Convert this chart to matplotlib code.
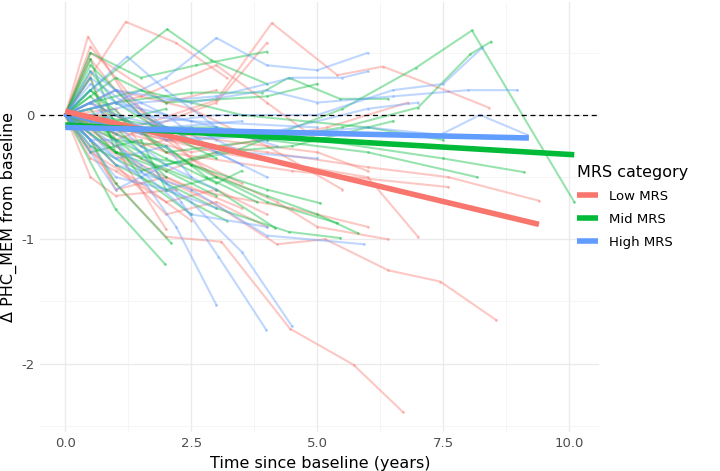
import numpy as np
import matplotlib.pyplot as plt

plt.rcParams['axes.unicode_minus'] = False

# group colours (ggplot defaults)
colors = {'Low MRS': '#F8766D', 'Mid MRS': '#00BA38', 'High MRS': '#619CFF'}

# individual trajectories: (time, change) per participant
low_traj = [
    ([0, 0.45, 1.2, 2.1], [0, 0.63, 0.15, -0.2]),
    ([0, 1.2, 2.2, 3.2], [0, 0.75, 0.58, 0.3]),
    ([0, 1.0, 3.0, 4.1, 5.4, 6.3, 7.6, 8.4], [0, -0.15, 0.12, 0.74, 0.32, 0.39, 0.19, 0.06]),
    ([0, 1.0, 3.0, 4.0], [0, -0.2, 0.1, 0.58]),
    ([0, 1.0, 2.0, 3.1, 4.46, 5.72, 6.7], [0, -0.55, -0.98, -1.02, -1.72, -2.01, -2.39]),
    ([0, 1.1, 2.9, 4.2, 5.16, 6.41, 7.44, 8.55], [0, -0.35, -0.7, -1.04, -1.0, -1.25, -1.34, -1.65]),
    ([0, 2.0, 4.0, 6.0, 7.6, 9.4], [0, -0.2, -0.3, -0.42, -0.5, -0.69]),
    ([0, 1.0, 3.0, 6.0, 7.0], [0, -0.1, -0.3, -0.5, -0.98]),
    ([0, 2.0, 4.5, 7.6], [0, -0.3, -0.45, -0.58]),
    ([0, 0.5, 1.0, 2.0, 3.0], [0, 0.45, 0.2, -0.2, -0.5]),
    ([0, 0.5, 1.5, 2.5], [0, -0.3, -0.55, -0.85]),
    ([0, 0.5, 1.2, 2.0], [0, 0.3, -0.4, -0.92]),
    ([0, 1.0, 2.0, 3.0, 4.0], [0, -0.4, -0.8, -0.7, -0.9]),
    ([0, 0.5, 1.5, 3.0, 5.0, 6.0], [0, 0.1, -0.1, -0.2, -0.3, -0.45]),
    ([0, 0.5, 1.0, 2.0, 3.5], [0, -0.2, -0.6, -0.5, -0.75]),
    ([0, 1.5, 3.0, 4.0, 5.0], [0, 0.15, 0.4, 0.1, -0.2]),
    ([0, 0.5, 2.0, 3.0], [0, 0.5, 0.1, 0.2]),
    ([0, 1.0, 2.5, 4.0, 5.5], [0, 0.2, 0.05, -0.25, -0.6]),
    ([0, 0.5, 1.0, 2.2], [0, -0.5, -0.65, -0.6]),
    ([0, 1.0, 2.0, 4.2, 5.0, 6.4], [0, 0.0, -0.3, -0.7, -0.9, -1.0]),
    ([0, 2.5, 5.2, 6.8], [0, -0.3, -0.1, 0.1]),
    ([0, 0.5, 1.0, 2.5, 4.5, 6.0], [0, -0.1, -0.3, -0.6, -0.75, -0.9]),
    ([0, 0.5, 1.5, 2.5, 3.5], [0, 0.55, 0.05, -0.35, -0.55]),
    ([0, 1.0, 2.0, 3.0], [0, -0.25, -0.45, -0.3]),
    ([0, 0.5, 1.0, 2.0, 3.0, 4.0], [0, -0.35, -0.45, -0.7, -0.6, -0.8]),
    ([0, 1.0, 1.5, 2.5], [0, 0.05, -0.25, -0.15]),
]
mid_traj = [
    ([0, 1.0, 2.0, 3.3, 5.5, 6.96, 8.07, 10.1], [0, -0.2, -0.4, -0.3, 0.05, 0.38, 0.68, -0.70]),
    ([0, 0.5, 2.0, 4.0, 5.5, 7.0, 8.04, 8.45], [0, 0.2, -0.3, -0.2, -0.1, 0.06, 0.49, 0.59]),
    ([0, 0.5, 1.0, 2.0], [0, 0.45, -0.1, -0.5]),
    ([0, 0.5, 2.02, 2.9, 4.0], [0, 0.2, 0.69, 0.44, 0.25]),
    ([0, 0.5, 1.5, 2.6, 4.0], [0, 0.5, 0.3, 0.4, 0.51]),
    ([0, 1.0, 2.5, 3.9, 4.43, 5.45, 6.4], [0, 0.1, 0.18, 0.18, 0.3, 0.13, 0.13]),
    ([0, 1.0, 1.98], [0, -0.76, -1.2]),
    ([0, 0.5, 1.0, 2.1], [0, -0.2, -0.55, -1.03]),
    ([0, 1.0, 2.0, 3.0, 4.43, 5.46], [0, -0.3, -0.55, -0.75, -0.94, -0.99]),
    ([0, 0.5, 1.5, 3.0, 4.17], [0, -0.05, -0.35, -0.6, -0.91]),
    ([0, 1.0, 3.0, 5.0, 7.5, 9.1], [0, -0.1, -0.1, -0.2, -0.35, -0.46]),
    ([0, 0.5, 2.0, 4.0, 6.0, 8.17], [0, 0.0, -0.1, -0.2, -0.3, -0.5]),
    ([0, 0.5, 1.0, 2.5, 4.0, 5.06], [0, 0.2, 0.0, -0.4, -0.6, -0.71]),
    ([0, 1.0, 2.5, 4.0, 5.4], [0, -0.3, -0.4, -0.7, -0.87]),
    ([0, 0.5, 1.5, 2.5, 3.5], [0, 0.4, 0.0, -0.2, -0.3]),
    ([0, 0.5, 1.0, 2.0, 3.0], [0, -0.1, -0.3, -0.45, -0.65]),
    ([0, 0.5, 1.0, 2.0, 2.8, 3.8], [0, 0.0, -0.2, -0.25, -0.5, -0.7]),
    ([0, 1.0, 2.0, 4.0, 5.0], [0, 0.3, 0.1, 0.15, 0.25]),
    ([0, 0.5, 1.5, 3.0, 4.5, 6.5], [0, -0.25, -0.45, -0.3, -0.25, -0.05]),
    ([0, 0.5, 1.5, 2.5], [0, 0.05, -0.5, -0.8]),
    ([0, 0.5, 1.0], [0, 0.3, -0.3]),
    ([0, 1.0, 2.0, 3.0, 4.0, 5.0, 5.8], [0, -0.4, -0.6, -0.5, -0.65, -0.8, -0.95]),
    ([0, 0.5, 1.5, 3.5, 6.0, 7.5], [0, 0.1, 0.2, 0.0, -0.1, -0.2]),
    ([0, 0.5, 1.0, 2.0, 3.0], [0, 0.35, 0.1, -0.15, -0.35]),
    ([0, 1.0, 2.0, 3.0, 3.5], [0, -0.15, -0.35, -0.55, -0.45]),
    ([0, 0.5, 1.5, 2.0, 3.2], [0, -0.3, -0.2, -0.6, -0.85]),
    ([0, 0.5, 1.0, 2.0], [0, 0.15, -0.05, 0.05]),
]
high_traj = [
    ([0, 1.0, 2.5, 4.5, 6.0, 7.44, 8.23, 9.17], [0, -0.1, -0.2, -0.15, -0.1, -0.16, 0.0, -0.16]),
    ([0, 1.0, 2.5, 4.0, 5.0, 6.5, 8.0, 8.97], [0, 0.2, 0.1, 0.2, 0.1, 0.15, 0.2, 0.2]),
    ([0, 0.5, 1.5, 2.2, 3.0], [0, -0.2, -0.5, -0.9, -1.53]),
    ([0, 0.5, 1.5, 2.3, 3.04, 3.99], [0, 0.0, -0.3, -0.7, -1.14, -1.73]),
    ([0, 0.5, 1.5, 2.5, 3.5, 4.5], [0, -0.1, -0.4, -0.7, -1.1, -1.7]),
    ([0, 0.5, 1.0, 2.5, 4.0, 5.92], [0, -0.2, -0.4, -0.6, -0.97, -1.04]),
    ([0, 0.5, 1.23, 2.0, 3.0], [0, 0.2, 0.47, 0.2, -0.1]),
    ([0, 1.0, 2.0, 3.0, 4.0, 5.0, 6.0], [0, 0.1, 0.3, 0.62, 0.4, 0.36, 0.5]),
    ([0, 1.0, 3.0, 5.0, 6.5, 7.5, 8.27], [0, -0.1, 0.0, 0.0, 0.2, 0.25, 0.54]),
    ([0, 0.5, 1.0, 2.0, 3.0, 4.2], [0, 0.35, 0.2, 0.0, -0.1, -0.25]),
    ([0, 0.5, 1.5, 2.5, 3.5, 5.0], [0, -0.05, -0.15, -0.1, -0.3, -0.35]),
    ([0, 0.5, 1.0, 2.0], [0, -0.3, -0.6, -0.4]),
    ([0, 1.0, 2.0, 3.0, 4.0], [0, 0.1, 0.0, -0.3, -0.5]),
    ([0, 0.5, 1.5, 3.0, 4.5, 5.5, 6.0], [0, 0.0, 0.1, 0.15, 0.3, 0.3, 0.35]),
    ([0, 0.5, 1.0, 2.5, 3.5], [0, 0.25, 0.1, -0.2, -0.4]),
    ([0, 0.5, 1.0, 1.5, 2.5, 4.0], [0, -0.2, -0.2, -0.45, -0.8, -0.9]),
    ([0, 0.5, 1.0, 2.0, 3.0, 4.0, 5.0], [0, -0.05, 0.0, -0.1, -0.15, -0.2, -0.15]),
    ([0, 1.0, 2.0, 3.0], [0, -0.5, -0.6, -0.75]),
    ([0, 0.5, 2.0, 4.0, 6.0, 7.0], [0, 0.1, -0.2, -0.15, 0.05, 0.1]),
    ([0, 0.5, 1.5, 2.5, 5.0], [0, 0.3, 0.0, -0.05, -0.1]),
    ([0, 0.5, 1.0, 2.0, 2.5], [0, -0.15, -0.35, -0.25, -0.5]),
    ([0, 1.0, 2.0, 3.5], [0, 0.2, -0.1, -0.05]),
    ([0, 0.5, 1.5, 2.0, 3.0], [0, 0.1, -0.25, -0.4, -0.6]),
]

# group-level fitted lines (start/end)
fit_t = {'Low MRS': [0, 9.4], 'Mid MRS': [0, 10.1], 'High MRS': [0, 9.2]}
fit_y = {'Low MRS': [0.03, -0.88], 'Mid MRS': [-0.08, -0.32], 'High MRS': [-0.1, -0.185]}

groups = {'Low MRS': low_traj, 'Mid MRS': mid_traj, 'High MRS': high_traj}

fig = plt.figure(figsize=(7.2, 4.71), dpi=100)
ax = fig.add_axes([0.0556, 0.083, 0.777, 0.913])

for name, trajs in groups.items():
    for t, y in trajs:
        ax.plot(t, y, color=colors[name], alpha=0.4, lw=1.5, zorder=2,
                marker='o', markersize=2, markeredgewidth=0)

ax.axhline(0, color='black', lw=0.9, ls=(0, (4, 3)), zorder=3)

handles = []
for name in ['Low MRS', 'Mid MRS', 'High MRS']:
    h, = ax.plot(fit_t[name], fit_y[name], color=colors[name], lw=4,
                 solid_capstyle='butt', zorder=4)
    handles.append(h)

ax.set_xlim(-0.5, 10.6)
ax.set_ylim(-2.55, 0.91)
ax.set_xticks([0, 2.5, 5, 7.5, 10])
ax.set_xticklabels(['0.0', '2.5', '5.0', '7.5', '10.0'])
ax.set_yticks([-2, -1, 0])
ax.set_xticks([1.25, 3.75, 6.25, 8.75], minor=True)
ax.set_yticks([-2.5, -1.5, -0.5, 0.5], minor=True)
ax.grid(which='major', color='#EBEBEB', lw=1.0)
ax.grid(which='minor', color='#F4F4F4', lw=0.6)
ax.set_axisbelow(True)
for s in ax.spines.values():
    s.set_visible(False)
ax.tick_params(which='both', length=0, labelsize=9.5, labelcolor='#4D4D4D', pad=4)

ax.set_xlabel('Time since baseline (years)', fontsize=11.5, labelpad=4)
ax.set_ylabel('Δ PHC_MEM from baseline', fontsize=11.5)
ax.yaxis.set_label_coords(-0.041, 0.5)

leg = fig.legend(handles, ['Low MRS', 'Mid MRS', 'High MRS'], title='MRS category',
                 loc='upper left', bbox_to_anchor=(0.785, 0.675), frameon=False,
                 fontsize=9.5, title_fontsize=11.5, handlelength=1.6,
                 labelspacing=0.75, alignment='left')

fig.savefig('out.png', dpi=100)
